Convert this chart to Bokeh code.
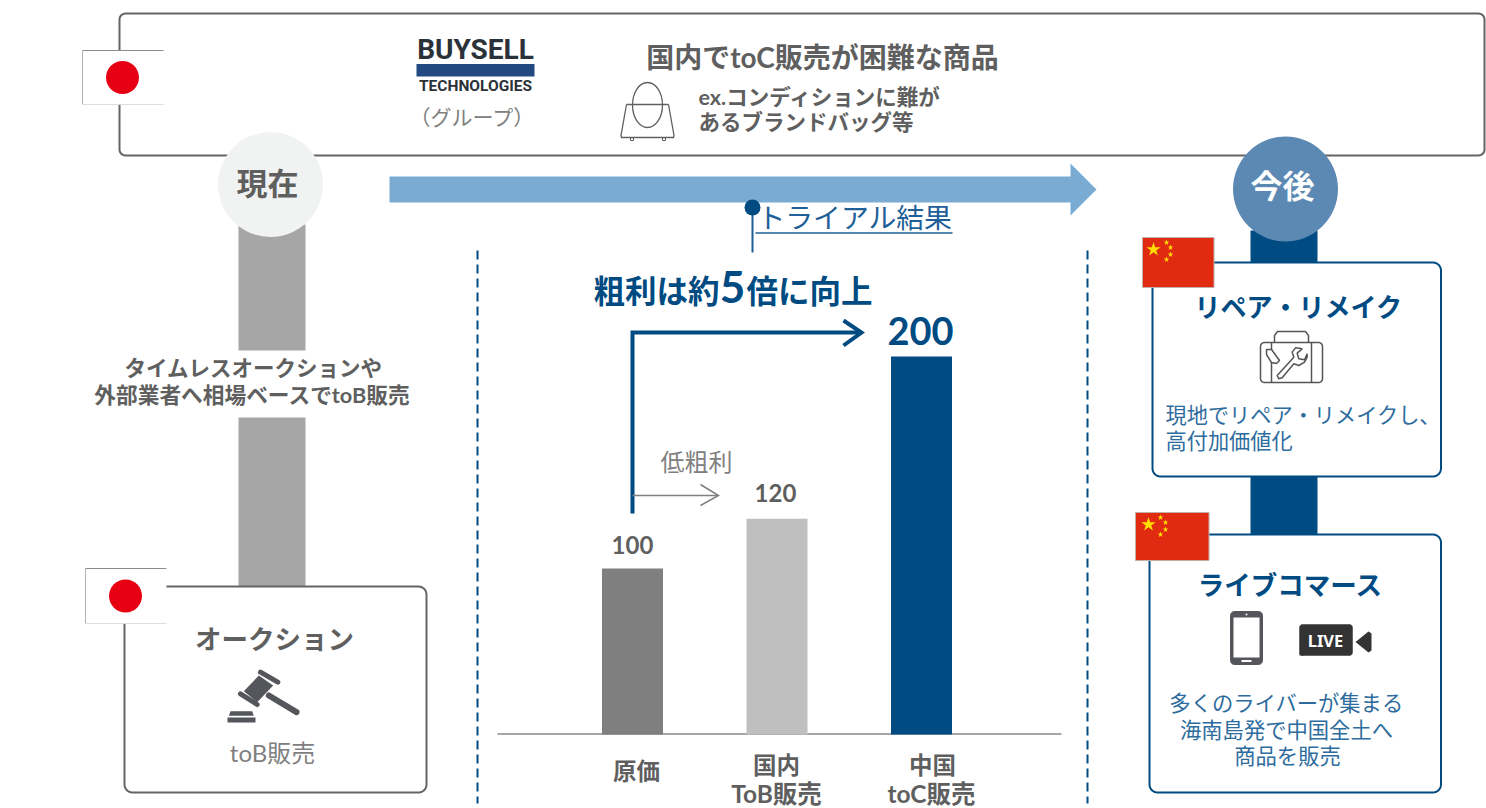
import numpy as np
from bokeh.plotting import figure
from bokeh.embed import file_html
from bokeh.resources import INLINE
from bokeh.core.properties import value
from bokeh.models import Range1d, ColumnDataSource

# ---- chart data ----
categories = ["原価", "国内ToB販売", "中国toC販売"]
cost_labels = ["100", "120", "200"]
bar_heights = [43.9, 57.1, 100.0]      # plotted height, % of the tallest bar
bar_colors = ["#7f7f7f", "#bfbfbf", "#004b82"]

W, H = 1486, 808
NAVY, GREY, MID, BLUE = "#004b82", "#5f5f5f", "#808080", "#2e6c9e"
JP = "Lato, Noto Sans CJK JP"

p = figure(width=W, height=H, output_backend="svg", toolbar_location=None,
           x_range=Range1d(0, W), y_range=Range1d(H, 0), min_border=0,
           outline_line_color=None, background_fill_color="white")
p.xaxis.visible = False
p.yaxis.visible = False
p.grid.visible = False

# bar chart has its own scales: index along x, % of tallest along y
STEP, X0, BASE, UNIT = 144.5, 632.0, 734.0, 3.78
p.extra_x_ranges["bars"] = Range1d((0 - X0) / STEP, (W - X0) / STEP)
p.extra_y_ranges["bars"] = Range1d((BASE - H) / UNIT, BASE / UNIT)


def label(x, y, t, size, color=GREY, bold=False, align="center", font=JP):
    p.text(x=[x], y=[y - 1], text=[t], text_font=value(font), text_font_size=f"{size}px",
           text_color=color, text_font_style="bold" if bold else "normal",
           text_align=align, text_baseline="middle")


def rounded(x0, y0, x1, y1, r, line, width=2, fill="white"):
    t = np.linspace(0, np.pi / 2, 8)
    xs, ys = [], []
    for cx, cy, a in ((x1 - r, y0 + r, -np.pi / 2), (x1 - r, y1 - r, 0),
                      (x0 + r, y1 - r, np.pi / 2), (x0 + r, y0 + r, np.pi)):
        xs += list(cx + r * np.cos(t + a))
        ys += list(cy + r * np.sin(t + a))
    p.patch(xs, ys, fill_color=fill, line_color=line, line_width=width)


def box(x0, y0, x1, y1, color, line=None):
    p.quad(left=[x0], right=[x1], top=[y0], bottom=[y1], fill_color=color, line_color=line)


def seg(xs, ys, color, width=2, cap="butt", join="miter"):
    p.line(xs, ys, line_color=color, line_width=width, line_cap=cap, line_join=join)


def disc(x, y, r, color):
    p.ellipse(x=[x], y=[y], width=[2 * r], height=[2 * r], fill_color=color, line_color=None)


# ---- top band ----
rounded(119, 13, 1484, 155, 6, "#646464", 2)


def jp_flag(x0, y0, x1, y1):
    box(x0, y0, x1, y1, "white")
    seg([x1, x0], [y0, y0], "#8c8c8c", 1)
    seg([x0, x0], [y0, y1], "#b0b0b0", 1)
    seg([x0, x1], [y1, y1], "#dddddd", 1)
    disc((x0 + x1) / 2 - 0.5, (y0 + y1) / 2, 16.5, "#e60012")


jp_flag(82, 50, 163, 104)

label(475, 50, "BUYSELL", 28, "#2a3138", True, font="Roboto")
box(416, 63.5, 534, 76, "#234a80")
label(475, 86.5, "TECHNOLOGIES", 15.5, "#2a3138", True, font="Roboto")
label(472, 117, "（グループ）", 21, MID)

label(822, 57, "国内でtoC販売が困難な商品", 28, GREY, True)
label(698, 97, "ex.コンディションに難が", 21.5, GREY, True, "left")
label(698, 122, "あるブランドバッグ等", 21.5, GREY, True, "left")

# handbag icon
p.ellipse(x=[647], y=[104.5], width=[30], height=[45], fill_color=None, line_color=GREY, line_width=1.3)
seg([626, 668], [104, 104], GREY, 1.3)
seg([626, 620.5, 621, 673, 673.5, 668], [104, 135, 137, 137, 135, 104], GREY, 1.3)
seg([630, 630, 633, 633], [137, 140, 140, 137], GREY, 1)
seg([662, 662, 665, 665], [137, 140, 140, 137], GREY, 1)

# ---- left column ----
box(238, 224, 305, 350, "#a6a6a6")
box(238, 417, 305, 587, "#a6a6a6")
disc(270, 184, 52.5, "#f1f2f2")
label(267, 183, "現在", 31, GREY, True)
label(253, 368, "タイムレスオークションや", 21.5, GREY, True)
label(252, 395, "外部業者へ相場ベースでtoB販売", 21.7, GREY, True)

rounded(124, 586, 426, 792, 8, "#646464", 2)
jp_flag(85, 568, 166, 623)
label(274, 639, "オークション", 26.5, GREY, True)
label(272, 753, "toB販売", 24, MID)


def gz(pts):
    return [70 + a / 3 for a, _ in pts], [560 + b / 3 for _, b in pts]


GAV = "#55565b"
gx, gy = gz([(520, 392), (565, 345), (608, 375), (560, 425)])
p.patch(gx, gy, fill_color=GAV, line_color=None)
for a in ([(570, 335), (622, 365)], [(510, 400), (560, 432)], [(595, 405), (678, 455)]):
    gx, gy = gz(a)
    seg(gx, gy, GAV, 5 if a[0][0] != 595 else 6, "round")
gx, gy = gz([(475, 466), (480, 452), (545, 452), (550, 466)])
p.patch(gx, gy, fill_color=GAV, line_color=None)
box(227, 717, 255, 722, GAV)

# ---- middle: arrow + chart ----
p.patch([389, 1070, 1070, 1096, 1070, 1070, 389], [176, 176, 163, 189, 215, 202, 202],
        fill_color="#7aabd3", line_color=None)
seg([752, 752], [207, 252], "#1f6098", 2)
disc(752, 207, 8, NAVY)
label(757, 218, "トライアル結果", 27.8, "#1f6098", False, "left")
seg([755, 952], [232.5, 232.5], "#1f6098", 1.5)

for x in (477, 1087):
    p.line([x, x], [250, 803], line_color=NAVY, line_width=2, line_dash="9 5")

label(593, 291, "粗利は約", 31.5, NAVY, True, "left")
label(732, 287, "5", 44, NAVY, True)
label(746, 291, "倍に向上", 31.5, NAVY, True, "left")

seg([632, 632, 860], [513, 332, 332], NAVY, 4, join="miter")
seg([843, 861, 843], [320, 332, 345], NAVY, 4, join="miter")

label(696, 462, "低粗利", 24, MID)
seg([632, 717], [495, 495], MID, 1.5)
seg([700, 718, 700], [484, 495, 505], MID, 1.5)

seg([497, 1061], [733.5, 733.5], "#a6a6a6", 2)
src = ColumnDataSource(dict(x=list(range(len(categories))), h=bar_heights, c=bar_colors))
p.vbar(x="x", top="h", bottom=0, width=61 / STEP, fill_color="c", line_color=None, source=src,
       x_range_name="bars", y_range_name="bars")

label(632, 545, cost_labels[0], 24, GREY, True)
label(775, 493, cost_labels[1], 24, GREY, True)
label(920, 331, cost_labels[2], 38, NAVY, True)

label(636, 771, categories[0], 23.5, GREY, True)
label(776, 765, categories[1][:2], 23.5, GREY, True)
label(776, 794, categories[1][2:], 24.5, GREY, True)
label(932, 765, categories[2][:2], 23.5, GREY, True)
label(931, 794, categories[2][2:], 24.5, GREY, True)

# ---- right column ----
box(1250, 230, 1317, 270, NAVY)
box(1250, 470, 1317, 540, NAVY)
disc(1285, 188.5, 52.5, "#5b89b4")
label(1282, 186, "今後", 32, "white", True)


def cn_flag(x0, y0, x1, y1, big, small):
    box(x0, y0, x1, y1, "#e02b10", "#c0b0a8")
    p.scatter(x=[big[0]], y=[big[1]], marker="star", size=15, fill_color="#ffde00", line_color=None)
    p.scatter(x=[s[0] for s in small], y=[s[1] for s in small], marker="star", size=6,
              fill_color="#ffde00", line_color=None)


rounded(1152, 262, 1440.5, 476, 8, NAVY, 2)
cn_flag(1142, 237, 1213.5, 287, (1153, 249), [(1166, 242), (1170, 247), (1170, 254), (1166, 259)])
label(1298, 307, "リペア・リメイク", 26, NAVY, True)

# suitcase + wrench icon
ICON = "#555555"
rounded(1260, 342, 1322, 382, 4, ICON, 1.5)
seg([1274, 1274, 1277, 1305, 1308, 1308], [342, 335, 331, 331, 335, 342], ICON, 1.5)
seg([1271, 1271], [342, 382], ICON, 1.5)
seg([1311, 1311], [342, 382], ICON, 1.5)
wz = [(470, 735), (520, 680), (515, 665), (525, 652), (545, 655), (530, 668), (535, 685), (552, 688),
      (560, 670), (560, 680), (552, 695), (535, 705), (520, 700), (485, 742), (475, 745), (470, 735)]
p.patch([1120 + a / 3 for a, _ in wz], [130 + b / 3 for _, b in wz], fill_color="white",
        line_color=ICON, line_width=1.5)
p.patch([1266, 1271, 1279, 1276, 1271, 1266], [349, 349, 360, 363, 362, 354], fill_color="white",
        line_color=ICON, line_width=1.5)

label(1165, 415, "現地でリペア・リメイクし、", 21.2, BLUE, False, "left")
label(1165, 441, "高付加価値化", 21.2, BLUE, False, "left")

rounded(1149, 534, 1440.5, 792, 8, NAVY, 2)
cn_flag(1135, 512, 1208.5, 560, (1148, 524), [(1160, 517), (1165, 522), (1165, 529), (1160, 534)])
label(1290, 585, "ライブコマース", 26.5, NAVY, True)

# smartphone icon
rounded(1230, 611, 1262, 664, 4, "#55565b", 1, "#55565b")
box(1233, 617, 1259, 657, "white")
box(1241, 659.5, 1251, 661.5, "white")
disc(1246, 614, 1, "white")

# LIVE camera icon
rounded(1299, 624, 1352, 655, 3, "#333333", 0.5, "#333333")
box(1299, 652, 1303, 655, "#333333")
label(1325, 641, "LIVE", 16.5, "white", True, font="Noto Sans")
p.patch([1371, 1371, 1368, 1355, 1368], [633, 650, 652, 641.5, 631], fill_color="#333333", line_color=None)

label(1286, 703, "多くのライバーが集まる", 21.3, BLUE)
label(1286, 730, "海南島発で中国全土へ", 21.3, BLUE)
label(1287, 756, "商品を販売", 21.3, BLUE)

open("out.html", "w").write(file_html(p, INLINE))
